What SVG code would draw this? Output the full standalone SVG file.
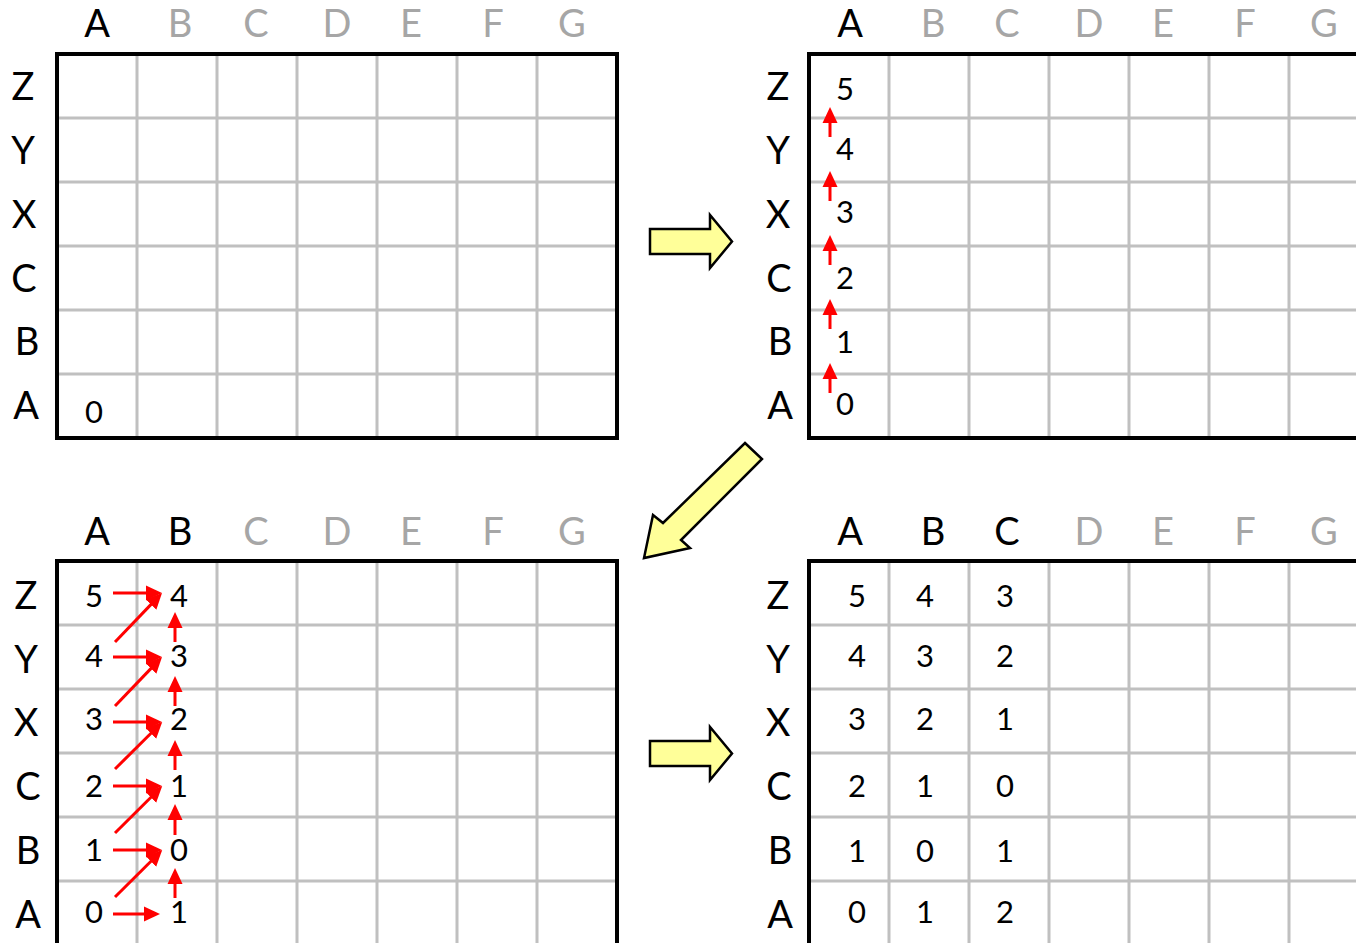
<svg xmlns="http://www.w3.org/2000/svg" width="1356" height="943" viewBox="0 0 1356 943">
<defs>
<style>
.g{stroke:#c0c0c0;stroke-width:3;fill:none}
.b{stroke:#000;stroke-width:4;fill:none}
.h{font-family:Lato,"Liberation Sans",sans-serif;font-size:38px;fill:#000;text-anchor:middle}
.d{fill:#a6a6a6}
.n{font-family:Lato,"Liberation Sans",sans-serif;font-size:31px;fill:#000;text-anchor:middle}
.r{stroke:#ff0000;stroke-width:3;fill:none;marker-end:url(#ah)}
.y{fill:#ffff99;stroke:#000;stroke-width:2.5;stroke-linejoin:miter}
</style>
<marker id="ah" markerUnits="userSpaceOnUse" markerWidth="16" markerHeight="16" viewBox="0 0 16 16" refX="3" refY="8" orient="auto">
<path d="M0,0.5 L16,8 L0,15.5 z" fill="#ff0000"/>
</marker>
</defs>
<rect width="1356" height="943" fill="#fff"/>

<g id="grid-top-left">
<path class="g" d="M137,54V438M217,54V438M297,54V438M377,54V438M457,54V438M537,54V438M57,118H617M57,182H617M57,246H617M57,310H617M57,374H617"/>
<rect class="b" x="57" y="54" width="560" height="384"/>
<text class="h" x="97" y="37">A</text>
<text class="h d" x="180" y="37">B</text>
<text class="h d" x="256" y="37">C</text>
<text class="h d" x="337" y="37">D</text>
<text class="h d" x="411" y="37">E</text>
<text class="h d" x="493" y="37">F</text>
<text class="h d" x="572" y="37">G</text>
<text class="h" x="23" y="100">Z</text>
<text class="h" x="23" y="164">Y</text>
<text class="h" x="24" y="228">X</text>
<text class="h" x="24" y="292">C</text>
<text class="h" x="27" y="355">B</text>
<text class="h" x="26" y="419">A</text>
<text class="n" x="94" y="423">0</text>
</g>

<g id="grid-top-right">
<path class="g" d="M889,54V438M969,54V438M1049,54V438M1129,54V438M1209,54V438M1289,54V438M809,118H1356M809,182H1356M809,246H1356M809,310H1356M809,374H1356"/>
<path class="b" d="M1358,54H809V438H1358"/>
<text class="h" x="850" y="37">A</text>
<text class="h d" x="933" y="37">B</text>
<text class="h d" x="1007" y="37">C</text>
<text class="h d" x="1089" y="37">D</text>
<text class="h d" x="1163" y="37">E</text>
<text class="h d" x="1245" y="37">F</text>
<text class="h d" x="1324" y="37">G</text>
<text class="h" x="778" y="100">Z</text>
<text class="h" x="778" y="164">Y</text>
<text class="h" x="778" y="228">X</text>
<text class="h" x="779" y="292">C</text>
<text class="h" x="780" y="355">B</text>
<text class="h" x="780" y="419">A</text>
<text class="n" x="845" y="100">5</text>
<text class="n" x="845" y="160">4</text>
<text class="n" x="845" y="223">3</text>
<text class="n" x="845" y="289">2</text>
<text class="n" x="845" y="353">1</text>
<text class="n" x="845" y="415">0</text>
</g>

<g id="grid-bottom-left">
<path class="g" d="M137,561V945M217,561V945M297,561V945M377,561V945M457,561V945M537,561V945M57,625H617M57,689H617M57,753H617M57,817H617M57,881H617"/>
<path class="b" d="M57,947V561H617V947"/>
<text class="h" x="97" y="545">A</text>
<text class="h" x="180" y="545">B</text>
<text class="h d" x="256" y="545">C</text>
<text class="h d" x="337" y="545">D</text>
<text class="h d" x="411" y="545">E</text>
<text class="h d" x="493" y="545">F</text>
<text class="h d" x="572" y="545">G</text>
<text class="h" x="26" y="609">Z</text>
<text class="h" x="26" y="673">Y</text>
<text class="h" x="26" y="736">X</text>
<text class="h" x="28" y="800">C</text>
<text class="h" x="28" y="864">B</text>
<text class="h" x="28" y="928">A</text>
<text class="n" x="94" y="607">5</text>
<text class="n" x="94" y="667">4</text>
<text class="n" x="94" y="730">3</text>
<text class="n" x="94" y="797">2</text>
<text class="n" x="94" y="861">1</text>
<text class="n" x="94" y="923">0</text>
<text class="n" x="179" y="607">4</text>
<text class="n" x="179" y="667">3</text>
<text class="n" x="179" y="730">2</text>
<text class="n" x="179" y="797">1</text>
<text class="n" x="179" y="861">0</text>
<text class="n" x="179" y="923">1</text>
</g>

<g id="grid-bottom-right">
<path class="g" d="M889,561V945M969,561V945M1049,561V945M1129,561V945M1209,561V945M1289,561V945M809,625H1356M809,689H1356M809,753H1356M809,817H1356M809,881H1356"/>
<path class="b" d="M809,947V561H1358"/>
<text class="h" x="850" y="545">A</text>
<text class="h" x="933" y="545">B</text>
<text class="h" x="1007" y="545">C</text>
<text class="h d" x="1089" y="545">D</text>
<text class="h d" x="1163" y="545">E</text>
<text class="h d" x="1245" y="545">F</text>
<text class="h d" x="1324" y="545">G</text>
<text class="h" x="778" y="609">Z</text>
<text class="h" x="778" y="673">Y</text>
<text class="h" x="778" y="736">X</text>
<text class="h" x="779" y="800">C</text>
<text class="h" x="780" y="864">B</text>
<text class="h" x="780" y="928">A</text>
<text class="n" x="857" y="607">5</text>
<text class="n" x="857" y="667">4</text>
<text class="n" x="857" y="730">3</text>
<text class="n" x="857" y="797">2</text>
<text class="n" x="857" y="862">1</text>
<text class="n" x="857" y="923">0</text>
<text class="n" x="925" y="607">4</text>
<text class="n" x="925" y="667">3</text>
<text class="n" x="925" y="730">2</text>
<text class="n" x="925" y="797">1</text>
<text class="n" x="925" y="862">0</text>
<text class="n" x="925" y="923">1</text>
<text class="n" x="1005" y="607">3</text>
<text class="n" x="1005" y="667">2</text>
<text class="n" x="1005" y="730">1</text>
<text class="n" x="1005" y="797">0</text>
<text class="n" x="1005" y="862">1</text>
<text class="n" x="1005" y="923">2</text>
</g>

<g id="connectors">
<polygon class="y" points="650,229 710,229 710,215 732,241.5 710,268 710,254 650,254"/>
<polygon class="y" points="650,741 710,741 710,727 732,753.5 710,780 710,766 650,766"/>
<polygon class="y" points="745,443 762,459 681,540 690,548 644,558 653,515 663,523"/>

<line class="r" x1="830" y1="137" x2="830" y2="120"/>
<line class="r" x1="830" y1="201" x2="830" y2="184"/>
<line class="r" x1="830" y1="265" x2="830" y2="248"/>
<line class="r" x1="830" y1="329" x2="830" y2="312"/>
<line class="r" x1="830" y1="393" x2="830" y2="376"/>

<line class="r" x1="113" y1="593" x2="149" y2="593"/>
<line class="r" x1="113" y1="657" x2="149" y2="657"/>
<line class="r" x1="113" y1="722" x2="149" y2="722"/>
<line class="r" x1="113" y1="786" x2="149" y2="786"/>
<line class="r" x1="113" y1="850" x2="149" y2="850"/>
<line class="r" x1="113" y1="914" x2="147" y2="914"/>

<line class="r" x1="115" y1="642" x2="153" y2="602.4"/>
<line class="r" x1="115" y1="706" x2="153" y2="666.4"/>
<line class="r" x1="115" y1="769" x2="153" y2="731.2"/>
<line class="r" x1="115" y1="833" x2="153" y2="795.2"/>
<line class="r" x1="115" y1="897" x2="153" y2="859.2"/>

<line class="r" x1="175" y1="642" x2="175" y2="625"/>
<line class="r" x1="175" y1="706" x2="175" y2="689"/>
<line class="r" x1="175" y1="770" x2="175" y2="753"/>
<line class="r" x1="175" y1="835" x2="175" y2="817"/>
<line class="r" x1="175" y1="898" x2="175" y2="881"/>
</g>
</svg>
